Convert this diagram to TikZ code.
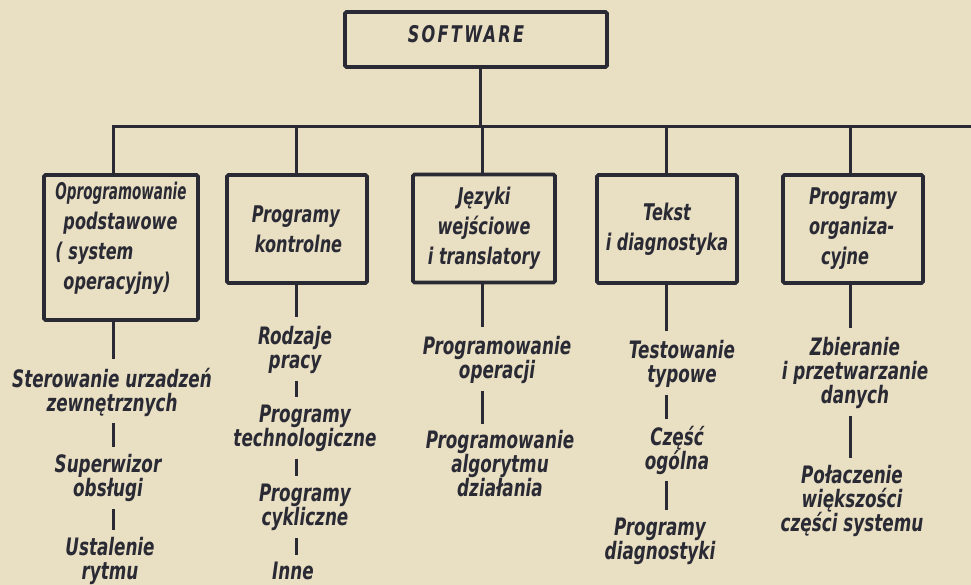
\documentclass[tikz,border=0pt]{standalone}
\usepackage{fontspec}
\usepackage{graphicx}
\newfontfamily\lett{DejaVu Sans}[FakeStretch=0.7]
\definecolor{paper}{RGB}{233,223,195}
\definecolor{ink}{RGB}{42,42,52}
\begin{document}
\begin{tikzpicture}[x=1pt,y=-1pt,
  lettering/.style={font=\lett\bfseries\itshape\fontsize{23}{30}\selectfont},
  catbox/.style={draw=ink, text=ink, line width=3.6pt, rounded corners=1.5pt,
    lettering, inner sep=0pt, minimum width=140, minimum height=108},
  item/.style={text=ink, font=\lett\bfseries\itshape\fontsize{24}{24}\selectfont,
    align=center, inner sep=0pt},
  wire/.style={draw=ink, line width=3pt, line join=miter},
  tick/.style={wire, shorten <=7pt, shorten >=7pt},
  drop/.style={wire, shorten >=9pt},
]
% paper
\fill[paper] (0,0) rectangle (971,585);
\useasboundingbox (0,0) rectangle (971,585);

% root
\node[catbox, minimum width=262, minimum height=55] (sw) at (476,39.5) {};
\node[text=ink, lettering, inner sep=0pt] (swl) at (466,34)
  {\addfontfeature{LetterSpace=10}SOFTWARE};

% bus coordinates
\coordinate (c0) at (480,127);
\coordinate (c1) at (113,127);
\coordinate (c2) at (296,127);
\coordinate (c3) at (482,127);
\coordinate (c4) at (666,127);
\coordinate (c5) at (850,127);
\coordinate (cR) at (971,127);

% categories
\node[catbox, minimum width=154, minimum height=145, align=left] (b1) at (121,247.5)
  {\scalebox{0.84}[1]{Oprogramowanie}\\\hspace*{8pt}podstawowe\\( system\\\hspace*{8pt}operacyjny)\\[-6pt]};
\node[catbox, align=left] (b2) at (297,229) {Programy\\\hspace*{3pt}kontrolne};
\node[catbox, minimum width=142, align=center] (b3) at (484,228.5) {Języki\\wejściowe\\i translatory};
\node[catbox, align=center] (b4) at (667,229) {Tekst\\i diagnostyka};
\node[catbox, align=left] (b5) at (853,229) {Programy\\organiza-\\\hspace*{12pt}cyjne};

% tree lines
\draw[wire] (c0 |- sw.south) -- (c0);
\draw[wire] (c1 |- b1.north) -- (c1) -- (cR);
\foreach \i in {2,3,4,5} \draw[wire] (c\i) -- (c\i |- b\i.north);

% column 1
\node[item] (t11) at (112,392) {Sterowanie urzadzeń\\zewnętrznych};
\node[item] (t12) at (108,478) {Superwizor\\obsługi};
\node[item] (t13) at (110,561) {Ustalenie\\rytmu};
% column 2
\node[item] (t21) at (295,350) {Rodzaje\\pracy};
\node[item] (t22) at (305,428) {Programy\\technologiczne};
\node[item] (t23) at (305,507) {Programy\\cykliczne};
\node[item] (t24) at (293,571) {Inne};
% column 3
\node[item] (t31) at (497,360) {Programowanie\\operacji};
\node[item] (t32) at (500,464) {Programowanie\\algorytmu\\działania};
% column 4
\node[item] (t41) at (682,364) {Testowanie\\typowe};
\node[item] (t42) at (677,450) {Część\\ogólna};
\node[item] (t43) at (660,541) {Programy\\diagnostyki};
% column 5
\node[item] (t51) at (855,373) {Zbieranie\\i przetwarzanie\\danych};
\node[item] (t52) at (852,501) {Połaczenie\\większości\\części systemu};

% links below the categories
\draw[drop] (c1 |- b1.south) -- (c1 |- t11.north);
\draw[tick] (c1 |- t11.south) -- (c1 |- t12.north);
\draw[tick] (c1 |- t12.south) -- (c1 |- t13.north);
\draw[drop] (c2 |- b2.south) -- (c2 |- t21.north);
\draw[tick] (c2 |- t21.south) -- (c2 |- t22.north);
\draw[tick] (c2 |- t22.south) -- (c2 |- t23.north);
\draw[tick] (c2 |- t23.south) -- (c2 |- t24.north);
\draw[drop] (c3 |- b3.south) -- (c3 |- t31.north);
\draw[tick] (c3 |- t31.south) -- (c3 |- t32.north);
\draw[drop] (c4 |- b4.south) -- (c4 |- t41.north);
\draw[tick] (c4 |- t41.south) -- (c4 |- t42.north);
\draw[tick] (c4 |- t42.south) -- (c4 |- t43.north);
\draw[drop] (c5 |- b5.south) -- (c5 |- t51.north);
\draw[tick] (c5 |- t51.south) -- (c5 |- t52.north);
\end{tikzpicture}
\end{document}
